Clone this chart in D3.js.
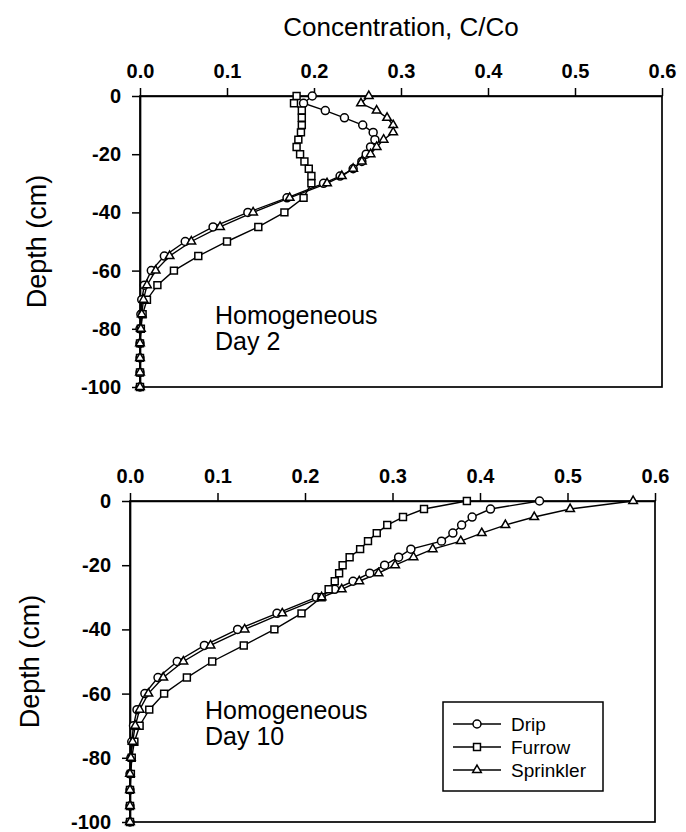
<!DOCTYPE html>
<html><head><meta charset="utf-8">
<script src="https://cdn.jsdelivr.net/npm/d3@7"></script>
<style>body{margin:0;background:#fff} svg{display:block}</style>
</head><body>
<svg id="c" width="686" height="832"></svg>
<script>
// ---- data ----
const depths = [0,-2.5,-5,-7.5,-10,-12.5,-15,-17.5,-20,-22.5,-25,-27.5,-30,
  -35,-40,-45,-50,-55,-60,-65,-70,-75,-80,-85,-90,-95,-100];
const xTicks = [0,0.1,0.2,0.3,0.4,0.5,0.6];
const yTicks = [0,-20,-40,-60,-80,-100];
const seriesNames = ["Drip","Furrow","Sprinkler"];
const panelLabels = [["Homogeneous","Day 2"],["Homogeneous","Day 10"]];

const day2Drip = [0.198,0.188,0.213,0.235,0.256,0.268,0.270,0.265,0.260,0.255,0.245,0.230,0.211,
  0.169,0.124,0.084,0.052,0.028,0.013,0.005,0.002,0.001,0,0,0,0,0];
const day2Furrow = [0.180,0.177,0.186,0.186,0.186,0.185,0.182,0.180,0.184,0.189,0.194,0.197,0.197,
  0.188,0.166,0.136,0.100,0.067,0.039,0.020,0.008,0.003,0.001,0,0,0,0];
const day2Sprinkler = [0.263,0.254,0.272,0.284,0.291,0.291,0.280,0.272,0.265,0.255,0.245,0.232,0.215,
  0.172,0.130,0.092,0.059,0.034,0.018,0.008,0.004,0.002,0.001,0,0,0,0];

const day10Drip = [0.468,0.412,0.391,0.379,0.369,0.356,0.321,0.307,0.291,0.274,0.255,0.234,0.213,
  0.168,0.123,0.085,0.054,0.032,0.017,0.008,0.004,0.002,0.001,0,0,0,0];
const day10Furrow = [0.385,0.336,0.312,0.294,0.282,0.272,0.263,0.251,0.243,0.239,0.234,0.227,0.219,
  0.196,0.165,0.130,0.094,0.065,0.039,0.022,0.011,0.005,0.002,0.001,0,0,0];
const day10Sprinkler = [0.575,0.503,0.462,0.429,0.402,0.378,0.346,0.324,0.303,0.284,0.262,0.242,0.219,
  0.174,0.131,0.092,0.061,0.038,0.021,0.011,0.006,0.003,0.001,0,0,0,0];

// ---- drawing ----
const svg = d3.select("#c");
const FONT = "Liberation Sans, Arial, Helvetica, sans-serif";
const symbols = {Drip: d3.symbolCircle, Furrow: d3.symbolSquare, Sprinkler: d3.symbolTriangle};
const symSize = {Drip: 50, Furrow: 48, Sprinkler: 32};

function marker(g, name, x, y) {
  g.append("path")
    .attr("d", d3.symbol().type(symbols[name]).size(symSize[name])())
    .attr("transform", `translate(${x},${y})`)
    .attr("fill", "#fff").attr("stroke", "#000").attr("stroke-width", 1.5);
}

function panel(cfg) {
  const x = d3.scaleLinear().domain([0, 0.6]).range([cfg.left, cfg.right]);
  const y = d3.scaleLinear().domain([0, -100]).range([cfg.top, cfg.bottom]);
  const g = svg.append("g");

  g.append("rect").attr("x", cfg.left).attr("y", cfg.top)
    .attr("width", cfg.right - cfg.left).attr("height", cfg.bottom - cfg.top)
    .attr("fill", "none").attr("stroke", "#000").attr("stroke-width", 1.7);

  const xa = g.append("g").attr("transform", `translate(0,${cfg.top})`)
    .call(d3.axisTop(x).tickValues(xTicks).tickFormat(d3.format(".1f")).tickSizeInner(8).tickSizeOuter(0).tickPadding(10));
  const ya = g.append("g").attr("transform", `translate(${cfg.left},0)`)
    .call(d3.axisLeft(y).tickValues(yTicks).tickFormat(d => String(d)).tickSizeInner(8).tickSizeOuter(0).tickPadding(11));
  [xa, ya].forEach(a => {
    a.select(".domain").attr("stroke", "#000").attr("stroke-width", 1.7);
    a.selectAll(".tick line").attr("stroke", "#000").attr("stroke-width", 1.5);
    a.selectAll("text").attr("font-family", FONT).attr("font-size", 20)
      .attr("font-weight", "bold").attr("fill", "#000");
  });

  g.append("text")
    .attr("transform", `translate(${cfg.ytitleX},${(cfg.top + cfg.bottom) / 2}) rotate(-90)`)
    .attr("text-anchor", "middle").attr("font-family", FONT).attr("font-size", 27)
    .text("Depth (cm)");

  const line = d3.line().x(d => x(d[0])).y(d => y(d[1]));
  cfg.series.forEach(s => {
    const pts = s.values.map((v, i) => [v, depths[i]]);
    g.append("path").datum(pts).attr("d", line)
      .attr("fill", "none").attr("stroke", "#000").attr("stroke-width", 1.4);
  });
  cfg.series.forEach(s => {
    s.values.forEach((v, i) => marker(g, s.name, x(v), y(depths[i])));
  });

  const t = g.append("text").attr("font-family", FONT).attr("font-size", 25)
    .attr("x", cfg.labelX).attr("y", cfg.labelY);
  cfg.label.forEach((l, i) => t.append("tspan").attr("x", cfg.labelX).attr("dy", i ? 26 : 0).text(l));
}

svg.append("text").attr("x", 401).attr("y", 36).attr("text-anchor", "middle")
  .attr("font-family", FONT).attr("font-size", 26).text("Concentration, C/Co");

panel({left: 140, right: 662, top: 96, bottom: 387, ytitleX: 46,
  labelX: 215, labelY: 324, label: panelLabels[0],
  series: [{name: "Drip", values: day2Drip}, {name: "Furrow", values: day2Furrow},
           {name: "Sprinkler", values: day2Sprinkler}]});

panel({left: 130, right: 655, top: 501, bottom: 822, ytitleX: 39,
  labelX: 205, labelY: 719, label: panelLabels[1],
  series: [{name: "Drip", values: day10Drip}, {name: "Furrow", values: day10Furrow},
           {name: "Sprinkler", values: day10Sprinkler}]});

// legend
const lg = svg.append("g");
lg.append("rect").attr("x", 443).attr("y", 702).attr("width", 160).attr("height", 89)
  .attr("fill", "#fff").attr("stroke", "#000").attr("stroke-width", 1.5);
seriesNames.forEach((n, i) => {
  const yy = 724 + i * 23;
  lg.append("line").attr("x1", 453).attr("x2", 501).attr("y1", yy).attr("y2", yy)
    .attr("stroke", "#000").attr("stroke-width", 1.4);
  marker(lg, n, 477, yy);
  lg.append("text").attr("x", 511).attr("y", yy + 7).attr("font-family", FONT)
    .attr("font-size", 19).text(n);
});
</script>
</body></html>
